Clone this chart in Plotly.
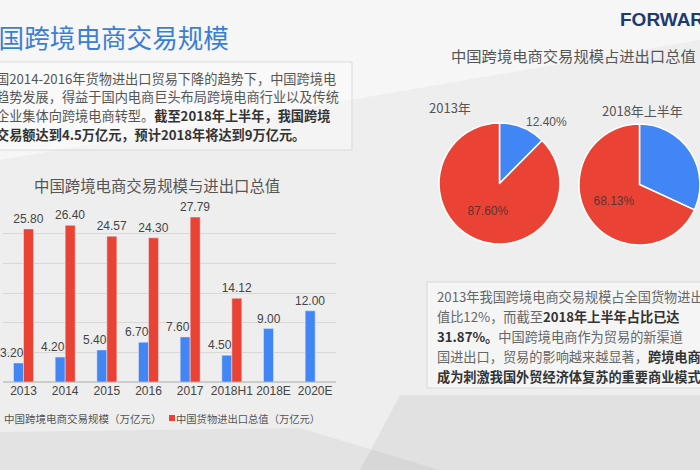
import plotly.graph_objects as go

# ---------------- data ----------------
years = ["2013", "2014", "2015", "2016", "2017", "2018H1", "2018E", "2020E"]
ecommerce_scale = [3.20, 4.20, 5.40, 6.70, 7.60, 4.50, 9.00, 12.00]
trade_total = [25.80, 26.40, 24.57, 24.30, 27.79, 14.12, None, None]
series_names = ["中国跨境电商交易规模（万亿元）", "中国货物进出口总值（万亿元）"]

pie_labels = ["跨境电商交易规模", "其他货物进出口"]
pie_2013 = [12.40, 87.60]
pie_2018h1 = [31.87, 68.13]

# ---------------- layout helpers ----------------
W, H = 700, 470
def px(x):
    return x / W
def py(y):
    return 1 - y / H

BLUE = "#4285F4"
RED = "#EA4335"
CJK = "Noto Sans CJK SC"
LAT = "Liberation Sans, Arial, sans-serif"
GRAY = "#555555"

fig = go.Figure()

fig.add_trace(go.Bar(x=years, y=ecommerce_scale, name=series_names[0],
                     marker_color=BLUE, showlegend=False))
fig.add_trace(go.Bar(x=years, y=trade_total, name=series_names[1],
                     marker_color=RED, showlegend=False,
                     texttemplate="%{y:.2f}", textposition="outside", cliponaxis=False,
                     constraintext="none",
                     textfont=dict(family=LAT, size=12, color="#444")))

pie_common = dict(
    labels=pie_labels, sort=False, direction="clockwise", rotation=0,
    marker=dict(colors=[BLUE, RED], line=dict(color="white", width=1.5)),
    texttemplate="%{percent:.2%}",
    insidetextorientation="horizontal",
    insidetextfont=dict(family=LAT, size=12, color="#5a3430"),
    outsidetextfont=dict(family=LAT, size=12, color="#555"),
    showlegend=False, hoverinfo="label+percent",
)
fig.add_trace(go.Pie(values=pie_2013, textposition=["outside", "inside"],
                     domain=dict(x=[px(439), px(560)], y=[py(244), py(123)]),
                     **pie_common))
fig.add_trace(go.Pie(values=pie_2018h1, textposition=["none", "inside"],
                     domain=dict(x=[px(579), px(700)], y=[py(245), py(124)]),
                     **pie_common))

annotations = []
def note(text, x, y, size, color=GRAY, family=CJK, anchor="left"):
    annotations.append(dict(text=text, x=px(x), y=py(y), xref="paper", yref="paper",
                            xanchor=anchor, yanchor="middle", showarrow=False,
                            font=dict(family=family, size=size, color=color)))

# value labels of the blue series, nudged left where a red bar sits next to them
for i, (v, t) in enumerate(zip(ecommerce_scale, trade_total)):
    annotations.append(dict(text=f"{v:.2f}", x=i, y=v, xref="x", yref="y",
                            xanchor="center", yanchor="bottom", showarrow=False,
                            xshift=(-12 if t is not None else -5), yshift=1,
                            font=dict(family=LAT, size=12, color="#444")))

# main title (left edge cut like the source)
note("中国跨境电商交易规模", -29, 37, 25.6, color="#3b7fd4")

# left paragraph
B = "<b><span style='color:#333'>%s</span></b>"
left_lines = [
    "国2014-2016年货物进出口贸易下降的趋势下，中国跨境电",
    "趋势发展，得益于国内电商巨头布局跨境电商行业以及传统",
    "企业集体向跨境电商转型。" + B % "截至2018年上半年，我国跨境",
    B % "交易额达到4.5万亿元，预计2018年将达到9万亿元。",
]
for i, t in enumerate(left_lines):
    note(t, -6, 78 + i * 18.7, 13.2)

# bar chart title
note("中国跨境电商交易规模与进出口总值", 157, 185, 15.4, anchor="center")

# manual legend
note(series_names[0], 2, 418, 10.5)
note(series_names[1], 174, 418, 10.3)

# right side
note("<b>FORWARD</b>", 618, 20, 19, color="#1d3b70", family=LAT)
note("中国跨境电商交易规模占进出口总值", 449, 55, 15.3)
note("2013年", 427, 107, 13)
note("2018年上半年", 600, 110, 13)

right_lines = [
    "2013年我国跨境电商交易规模占全国货物进出",
    "值比12%，而截至" + B % "2018年上半年占比已达",
    B % "31.87%。" + "中国跨境电商作为贸易的新渠道",
    "国进出口，贸易的影响越来越显著，" + B % "跨境电商",
    B % "成为刺激我国外贸经济体复苏的重要商业模式",
]
for i, t in enumerate(right_lines):
    note(t, 435, 296 + i * 20, 13.2, color="#666")

shapes = [
    # background facets
    dict(type="path", path=f"M 0 {py(160)} L 1 {py(40)} L 1 1 L 0 1 Z",
         fillcolor="rgba(255,255,255,0.45)", line_width=0),
    dict(type="path", path=f"M 0 {py(432)} L {px(300)} {py(428)} L {px(440)} 0 L 0 0 Z",
         fillcolor="rgba(0,0,0,0.045)", line_width=0),
    dict(type="path", path=f"M {px(400)} {py(395)} L 1 {py(395)} L 1 0 L {px(360)} 0 Z",
         fillcolor="rgba(0,0,0,0.05)", line_width=0),
    # text boxes
    dict(type="rect", x0=px(-5), x1=px(352), y0=py(150), y1=py(62),
         fillcolor="rgba(255,255,255,0.35)", line=dict(color="#d9d9d9", width=1)),
    dict(type="rect", x0=px(427), x1=px(720), y0=py(388), y1=py(282),
         fillcolor="rgba(255,255,255,0.4)", line=dict(color="#d9d9d9", width=1)),
    # legend swatch
    dict(type="rect", x0=px(169), x1=px(175), y0=py(421), y1=py(415),
         fillcolor=RED, line_width=0),
]
for s in shapes:
    s.update(xref="paper", yref="paper", layer="below")
shapes[-1]["layer"] = "above"

fig.update_layout(
    width=W, height=H, margin=dict(l=0, r=0, t=0, b=0),
    paper_bgcolor="#eeeeee", plot_bgcolor="rgba(0,0,0,0)",
    barmode="group", bargap=0.52, bargroupgap=0,
    xaxis=dict(type="category", domain=[px(2.7), px(336)], range=[-0.5, 7.5],
               tickangle=0, tickfont=dict(family=LAT, size=12, color="#444"),
               showline=False, ticks="", fixedrange=True),
    yaxis=dict(domain=[py(382), py(204)], range=[0, 30], dtick=5, showticklabels=False,
               gridcolor="#d8d8d8", gridwidth=1, zeroline=True, zerolinecolor="#cccccc",
               fixedrange=True),
    annotations=annotations, shapes=shapes,
)

post = "document.body.style.margin='0';document.body.style.overflow='hidden';"
fig.write_html("out.html", config={"displayModeBar": False}, post_script=post)
